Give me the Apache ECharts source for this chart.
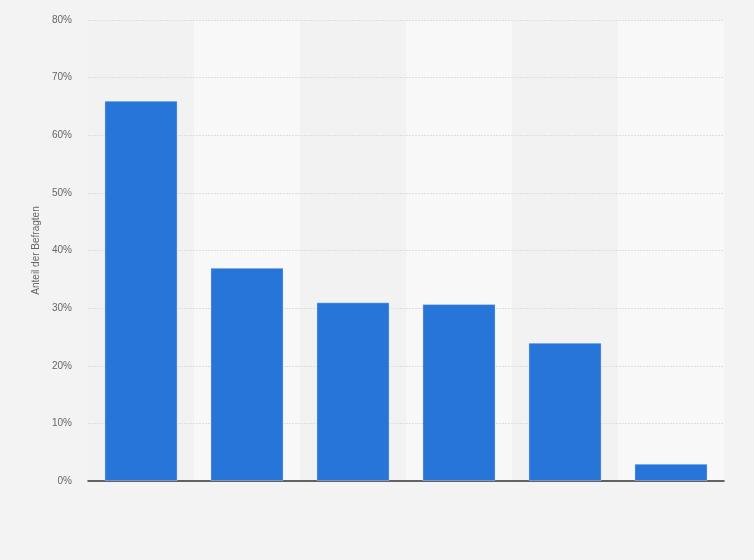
<!DOCTYPE html>
<html>
<head>
<meta charset="utf-8">
<script src="https://cdn.jsdelivr.net/npm/echarts@6/dist/echarts.min.js"></script>
<style>
html,body{margin:0;padding:0;background:#f3f3f3;}
#chart{width:754px;height:560px;}
</style>
</head>
<body>
<div id="chart"></div>
<script>
const categories = ['1', '2', '3', '4', '5', '6'];
const values = [66, 37, 31, 30.7, 24, 3];
const yTicks = [0, 10, 20, 30, 40, 50, 60, 70, 80];
const yAxisTitle = 'Anteil der Befragten';

const chart = echarts.init(document.getElementById('chart'));
chart.setOption({
  backgroundColor: '#f3f3f3',
  animation: false,
  textStyle: { fontFamily: 'Liberation Sans, Arial, sans-serif' },
  grid: { left: 88, right: 30, top: 20, bottom: 79 },
  xAxis: {
    type: 'category',
    data: categories,
    z: 0,
    axisLabel: { show: false },
    axisTick: { show: false },
    axisLine: { show: true, lineStyle: { color: '#333', width: 1.5 } },
    splitArea: { show: true, areaStyle: { color: ['#f2f2f2', '#f8f8f8'] } }
  },
  yAxis: {
    type: 'value',
    z: 1,
    min: yTicks[0],
    max: yTicks[yTicks.length - 1],
    interval: 10,
    name: yAxisTitle,
    nameLocation: 'middle',
    nameGap: 43,
    nameTextStyle: { color: '#666', fontSize: 10 },
    axisLine: { show: false },
    axisTick: { show: false },
    axisLabel: { formatter: '{value}%', color: '#666', fontSize: 10, margin: 16 },
    splitLine: { show: true, showMinLine: false, lineStyle: { color: '#dedede', type: [2, 1], width: 1 } }
  },
  series: [{
    type: 'bar',
    z: 3,
    data: values,
    barWidth: '69%',
    itemStyle: { color: '#2775d9', borderColor: 'rgba(255,255,255,0.3)', borderWidth: 1 }
  }]
});
</script>
</body>
</html>
